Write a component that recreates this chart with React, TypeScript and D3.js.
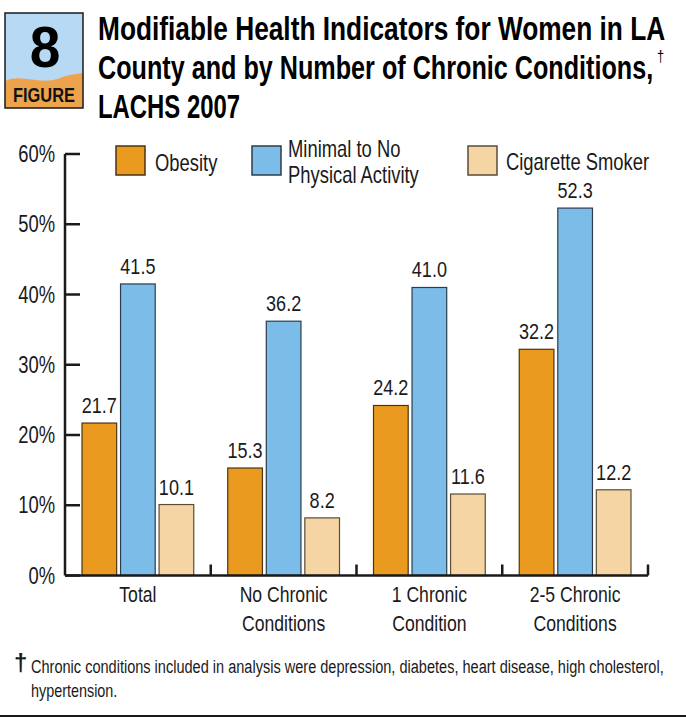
import React, { useLayoutEffect, useRef, useState } from 'react'
import * as d3 from 'd3'

// data
const categories = ['Total', 'No Chronic Conditions', '1 Chronic Condition', '2-5 Chronic Conditions']
const categoryLines = [['Total'], ['No Chronic', 'Conditions'], ['1 Chronic', 'Condition'], ['2-5 Chronic', 'Conditions']]
const seriesNames = ['Obesity', 'Minimal to No Physical Activity', 'Cigarette Smoker']
const obesity = [21.7, 15.3, 24.2, 32.2]
const inactivity = [41.5, 36.2, 41.0, 52.3]
const smoker = [10.1, 8.2, 11.6, 12.2]
const yTicks = [0, 10, 20, 30, 40, 50, 60]

const colors = ['#EA9B1F', '#7BBDE8', '#F6D5A4']
const strokes = ['#4a3512', '#2c3c4c', '#5b4c36']
const FONT = '"Liberation Sans", Arial, sans-serif'
const INK = '#1a1a1a'
const SX = 0.8 // horizontal squeeze, the original face is a condensed one

// text squeezed horizontally around its anchor point
function NText({ x, y, sx = SX, children, ...rest }: any) {
    return (
        <text transform={`translate(${x},${y}) scale(${sx},1)`} {...rest}>{children}</text>
    )
}

// text squeezed so that it spans a given width
function FitText({ x, y, width, children, ...rest }: any) {
    const ref = useRef<SVGTextElement>(null)
    const [sx, setSx] = useState(SX)
    useLayoutEffect(() => {
        const w = ref.current ? ref.current.getComputedTextLength() : 0
        if (w) setSx(width / w)
    }, [width])
    return (
        <text ref={ref} transform={`translate(${x},${y}) scale(${sx},1)`} {...rest}>{children}</text>
    )
}

export default function App() {
    const values = [obesity, inactivity, smoker]

    const y = d3.scaleLinear().domain([0, 60]).range([575.5, 154])
    const x0 = d3.scaleBand().domain(categories).range([65, 648])
    const x1 = d3
        .scaleBand()
        .domain(seriesNames)
        .range([17, x0.bandwidth() - 17])
        .paddingInner(0.1)

    const base = y(0)
    const mid = (c: string) => (x0(c) as number) + x0.bandwidth() / 2

    return (
        <svg width={686} height={719} style={{ position: 'absolute', left: 0, top: 0, background: '#fff' }}
            fontFamily={FONT}>
            {/* figure badge */}
            <g>
                <rect x={5} y={13} width={78} height={95} fill="#B7D9F3" />
                <path d="M5,81 C22,73 40,86 60,78 C70,74 77,74 83,73 L83,108 L5,108 Z" fill="#EDA34C" />
                <rect x={5} y={13} width={78} height={95} fill="none" stroke={INK} strokeWidth={1.5} />
                <NText x={45} y={67} sx={0.95} textAnchor="middle" fontSize={58} fontWeight="bold" fill="#000">8</NText>
                <FitText x={13} y={102} width={62} fontSize={20} fontWeight="bold" fill="#111">FIGURE</FitText>
            </g>

            {/* title */}
            <g fontSize={34} fontWeight="bold" fill="#000">
                <FitText x={98} y={40} width={567}>Modifiable Health Indicators for Women in LA</FitText>
                <FitText x={98} y={79} width={555}>County and by Number of Chronic Conditions,</FitText>
                <NText x={657} y={62} fontSize={16} fontWeight="normal">†</NText>
                <FitText x={98} y={118} width={142}>LACHS 2007</FitText>
            </g>

            {/* y axis */}
            <g>
                <line x1={65} x2={65} y1={y(60)} y2={base} stroke={INK} strokeWidth={2.5} />
                {yTicks.map((t) => (
                    <g key={t}>
                        <line x1={65} x2={80} y1={y(t)} y2={y(t)} stroke={INK} strokeWidth={2.5} />
                        <NText x={55} y={y(t) + 8} textAnchor="end" fontSize={23} fill={INK}>
                            {t}%
                        </NText>
                    </g>
                ))}
            </g>

            {/* bars */}
            {categories.map((c, i) => (
                <g key={c} transform={`translate(${x0(c)},0)`}>
                    {seriesNames.map((s, j) => {
                        const v = values[j][i]
                        return (
                            <g key={s}>
                                <rect x={x1(s)} y={y(v)} width={x1.bandwidth()} height={base - y(v)}
                                    fill={colors[j]} stroke={strokes[j]} strokeWidth={1.2} />
                                <NText x={(x1(s) as number) + x1.bandwidth() / 2} y={y(v) - 10}
                                    sx={0.82} textAnchor="middle" fontSize={22} fill={INK}>
                                    {v.toFixed(1)}
                                </NText>
                            </g>
                        )
                    })}
                </g>
            ))}

            {/* x axis */}
            <g>
                <line x1={65} x2={648} y1={base} y2={base} stroke={INK} strokeWidth={2.5} />
                {categories.map((c) => (
                    <line key={c} x1={(x0(c) as number) + x0.bandwidth()} x2={(x0(c) as number) + x0.bandwidth()}
                        y1={base} y2={base - 11} stroke={INK} strokeWidth={2.5} />
                ))}
                {categories.map((c, i) => (
                    <g key={c}>
                        {categoryLines[i].map((ln, k) => (
                            <NText key={k} x={mid(c)} y={602 + k * 29} textAnchor="middle" fontSize={22} fill={INK}>
                                {ln}
                            </NText>
                        ))}
                    </g>
                ))}
            </g>

            {/* legend */}
            <g fontSize={23} fill={INK}>
                <rect x={116} y={146} width={29} height={29} fill={colors[0]} stroke={strokes[0]} strokeWidth={1.5} />
                <NText x={155} y={171}>Obesity</NText>
                <rect x={252} y={146} width={29} height={29} fill={colors[1]} stroke={strokes[1]} strokeWidth={1.5} />
                <NText x={288} y={157}>Minimal to No</NText>
                <NText x={288} y={183}>Physical Activity</NText>
                <rect x={468} y={146} width={29} height={29} fill={colors[2]} stroke={strokes[2]} strokeWidth={1.5} />
                <NText x={506} y={170}>Cigarette Smoker</NText>
            </g>

            {/* footnote */}
            <g fill={INK}>
                <NText x={14} y={671} sx={1} fontSize={24} fontWeight="bold">†</NText>
                <FitText x={31} y={673} width={632} fontSize={18}>
                    Chronic conditions included in analysis were depression, diabetes, heart disease, high cholesterol,
                </FitText>
                <NText x={31} y={697} fontSize={18}>hypertension.</NText>
                <line x1={0} x2={686} y1={716} y2={716} stroke={INK} strokeWidth={2} />
            </g>
        </svg>
    )
}
